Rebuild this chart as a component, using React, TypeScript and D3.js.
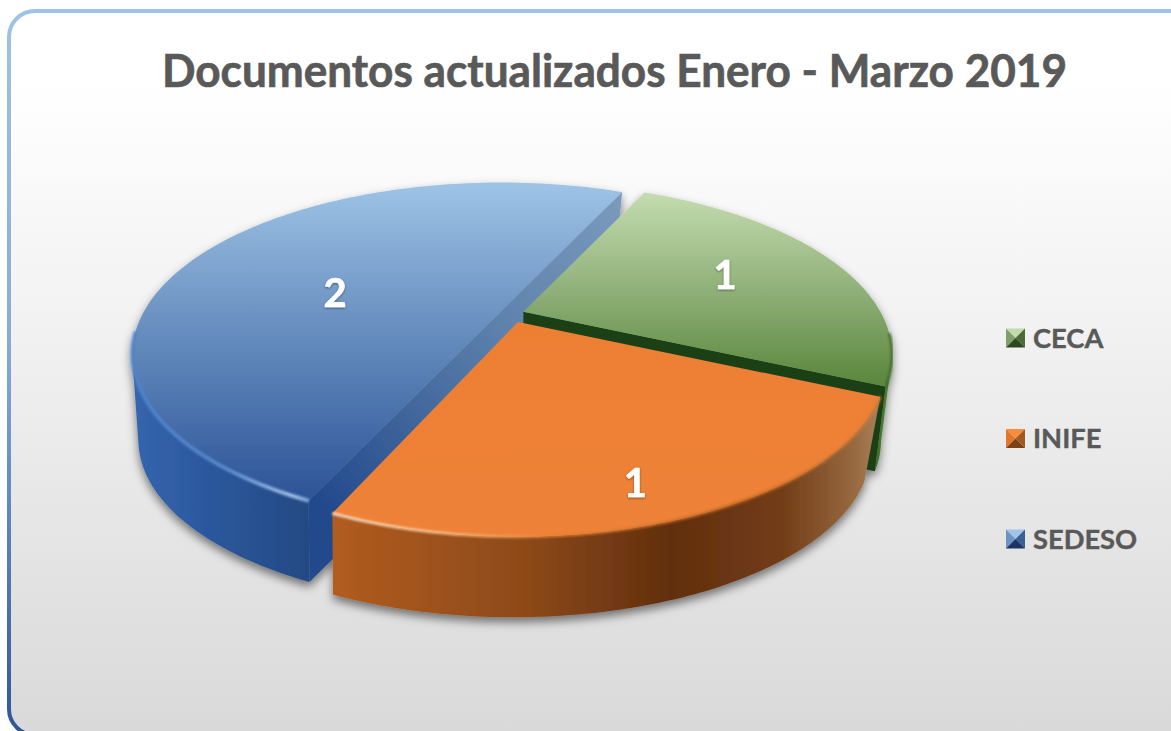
import * as d3 from 'd3'

// chart data
const categories = ['CECA', 'INIFE', 'SEDESO']
const values = [1, 1, 2]
const title = 'Documentos actualizados Enero - Marzo 2019'

const width = 1171
const height = 731

// projection of the tilted pie
const cx = 510
const cy = 316
const rx = 357
const ry = 161
const tilt = 0.25
const explode = 0.04
const depth = 87
const lowScale = 0.97 // lower face sits further away
const start = (24.6 * Math.PI) / 180

// small per-slice corrections to the explode offset and the slice end
const sliceShift: [number, number][] = [[0, -2], [3, 0], [4, -2]]
const lowShift = [0, -5, -5]
const endTrim = [0, 0.017, 0]

const pieData = d3.pie<number>().sort(null).startAngle(start).endAngle(start + 2 * Math.PI)(values)

const midAngle = (i: number) => (pieData[i].startAngle + pieData[i].endAngle) / 2

const project = (theta: number, r: number, i: number, low = false): [number, number] => {
  let mid = midAngle(i)
  let u = r * Math.sin(theta)
  let v = -r * Math.cos(theta)
  let w = 1 - tilt * v
  let ox = explode * rx * Math.sin(mid) + sliceShift[i][0]
  let oy = -explode * ry * Math.cos(mid) + sliceShift[i][1]
  let s = low ? lowScale : 1
  return [cx + ox + (s * rx * u) / w + (low ? lowShift[i] : 0), cy + oy + (s * ry * v) / w + (low ? depth : 0)]
}

const line = d3.line()

const angleSteps = (a0: number, a1: number) => d3.range(0, 121).map(k => a0 + ((a1 - a0) * k) / 120)

// label placement: radius and angle nudge per slice
const labelPlace = [
  { r: 0.647, nudge: -0.03 },
  { r: 0.839, nudge: 0.037 },
  { r: 0.494, nudge: -0.18 },
]

const topFill = d3.scaleOrdinal<string, string>().domain(categories).range(['url(#topGreen)', 'url(#topOrange)', 'url(#topBlue)'])
const sideFill = d3.scaleOrdinal<string, string>().domain(categories).range(['url(#sideGreen)', 'url(#sideOrange)', 'url(#sideBlue)'])
const rimStroke = d3.scaleOrdinal<string, string>().domain(categories).range(['#3c6524', 'url(#rimOrange)', 'url(#rimBlue)'])

const swatchColors = d3.scaleOrdinal<string, string[]>().domain(categories).range([
  ['#c0dcaa', '#7f9f6b', '#4b6b39', '#2c4821'],
  ['#f78c3c', '#e2762a', '#a2591f', '#7a4216'],
  ['#9fc6ea', '#6c93c2', '#3a5f94', '#1d3563'],
])

const legendY = d3.scalePoint<string>().domain(categories).range([338, 539])
const swatch = 19

const App = () => {
  // draw order: blue, green, orange
  const order = [2, 0, 1]

  return (
    <svg width={width} height={height} style={{ position: 'absolute', left: 0, top: 0, display: 'block', background: '#fff' }}>
      <defs>
        <linearGradient id="bg" x1="0" y1="0" x2="0" y2="1">
          <stop offset="0.1" stopColor="#ffffff" />
          <stop offset="0.45" stopColor="#f1f1f1" />
          <stop offset="1" stopColor="#d9d9d9" />
        </linearGradient>
        <linearGradient id="frame" x1="0" y1="0" x2="0" y2="1">
          <stop offset="0" stopColor="#9dc3e6" />
          <stop offset="0.45" stopColor="#86add9" />
          <stop offset="1" stopColor="#2f5597" />
        </linearGradient>
        <linearGradient id="topBlue" gradientUnits="userSpaceOnUse" x1="0" y1="185" x2="0" y2="495">
          <stop offset="0" stopColor="#9dc3e6" />
          <stop offset="0.4" stopColor="#6f95c4" />
          <stop offset="1" stopColor="#2d5598" />
        </linearGradient>
        <linearGradient id="topGreen" gradientUnits="userSpaceOnUse" x1="0" y1="195" x2="0" y2="395">
          <stop offset="0" stopColor="#c3dbae" />
          <stop offset="0.5" stopColor="#8dae76" />
          <stop offset="1" stopColor="#548235" />
        </linearGradient>
        <linearGradient id="topOrange" gradientUnits="userSpaceOnUse" x1="0" y1="320" x2="0" y2="540">
          <stop offset="0" stopColor="#ed7f33" />
          <stop offset="1" stopColor="#ee8238" />
        </linearGradient>
        <linearGradient id="sideBlue" gradientUnits="userSpaceOnUse" x1="130" y1="0" x2="320" y2="0">
          <stop offset="0" stopColor="#3566ae" />
          <stop offset="0.35" stopColor="#2d59a0" />
          <stop offset="1" stopColor="#234880" />
        </linearGradient>
        <linearGradient id="sideOrange" gradientUnits="userSpaceOnUse" x1="330" y1="0" x2="880" y2="0">
          <stop offset="0" stopColor="#b25c20" />
          <stop offset="0.35" stopColor="#8d4a19" />
          <stop offset="0.62" stopColor="#612f0e" />
          <stop offset="0.82" stopColor="#713c16" />
          <stop offset="0.95" stopColor="#96683f" />
          <stop offset="1" stopColor="#aa8059" />
        </linearGradient>
        <linearGradient id="sideGreen" gradientUnits="userSpaceOnUse" x1="860" y1="0" x2="885" y2="0">
          <stop offset="0" stopColor="#2c5319" />
          <stop offset="1" stopColor="#4b7c2e" />
        </linearGradient>
        <linearGradient id="wallBlue" gradientUnits="userSpaceOnUse" x1="620" y1="192" x2="313" y2="495">
          <stop offset="0" stopColor="#7b9abd" />
          <stop offset="0.4" stopColor="#5f83ad" />
          <stop offset="1" stopColor="#234a8c" />
        </linearGradient>
        <linearGradient id="rimBlue" gradientUnits="userSpaceOnUse" x1="130" y1="0" x2="320" y2="0">
          <stop offset="0" stopColor="#4f82c8" />
          <stop offset="0.5" stopColor="#5b8fd6" />
          <stop offset="0.85" stopColor="#b7d2f2" />
          <stop offset="1" stopColor="#6d9ad8" />
        </linearGradient>
        <linearGradient id="rimOrange" gradientUnits="userSpaceOnUse" x1="330" y1="0" x2="880" y2="0">
          <stop offset="0" stopColor="#fff0dc" />
          <stop offset="0.2" stopColor="#fbc592" />
          <stop offset="0.4" stopColor="#e97f35" />
          <stop offset="0.75" stopColor="#b8621f" />
          <stop offset="1" stopColor="#d08040" />
        </linearGradient>
        <filter id="pieShadow" x="-10%" y="-10%" width="120%" height="125%">
          <feDropShadow dx="0" dy="5" stdDeviation="5" floodColor="#000" floodOpacity="0.5" />
        </filter>
        <filter id="rimBlur" x="-5%" y="-5%" width="110%" height="110%">
          <feGaussianBlur stdDeviation="1.2" />
        </filter>
        <filter id="textShadow" x="-30%" y="-30%" width="160%" height="160%">
          <feDropShadow dx="0" dy="1" stdDeviation="1.2" floodColor="#000" floodOpacity="0.45" />
        </filter>
      </defs>

      <rect x={9} y={11} width={1200} height={724} rx={26} ry={26} fill="url(#bg)" stroke="url(#frame)" strokeWidth={4} />

      <text x={162} y={87} fontFamily="Lato" fontWeight={700} fontSize={46} fill="#595959" stroke="#595959" strokeWidth={0.7} textLength={905} lengthAdjust="spacingAndGlyphs">
        {title}
      </text>

      <g filter="url(#pieShadow)">
        {order.map(i => {
          const s = pieData[i]
          const a0 = s.startAngle
          const a1 = s.endAngle - endTrim[i]
          const cat = categories[i]
          const angles = angleSteps(a0, a1)
          const topArc = angles.map(a => project(a, 1, i))
          // the outer wall only shows below the widest line of the projected circle
          const front = angles.filter(a => -Math.cos(a) >= tilt)
          const sideTop = front.map(a => project(a, 1, i))
          const sideBot = front.map(a => project(a, 1, i, true)).reverse()
          // rim highlight only on the part of the arc that faces the viewer
          const rim = angles.filter(a => Math.cos(a) < -0.12).map(a => project(a, 1, i))
          const wallAt = (a: number): [number, number][] => [project(a, 1, i), project(a, 1, i, true)]
          // flat cut faces that can be seen from the front
          const blueWall = [...wallAt(a0), ...wallAt(a1).reverse()]
          const greenWall = [project(0, 0, i), project(0, 0, i, true), ...wallAt(a1).reverse()]
          return (
            <g key={cat}>
              <path d={line([...sideTop, ...sideBot]) + 'Z'} fill={sideFill(cat)} />
              {cat === 'SEDESO' && <path d={line(blueWall) + 'Z'} fill="url(#wallBlue)" />}
              {cat === 'CECA' && <path d={line(greenWall) + 'Z'} fill="#1f3f17" />}
              <path d={line([project(0, 0, i), ...topArc]) + 'Z'} fill={topFill(cat)} />
              <path d={line(rim) || ''} fill="none" stroke={rimStroke(cat)} strokeWidth={cat === 'SEDESO' ? 4 : 3} strokeOpacity={0.8} filter="url(#rimBlur)" />
            </g>
          )
        })}
      </g>

      <g filter="url(#textShadow)">
        {pieData.map((s, i) => {
          const [x, y] = project(midAngle(i) + labelPlace[i].nudge, labelPlace[i].r, i)
          return (
            <text key={categories[i]} x={x} y={y} dy=".36em" textAnchor="middle" fontFamily="Lato" fontWeight={700} fontSize={40} fill="#fff" stroke="#fff" strokeWidth={0.6}>
              {values[i]}
            </text>
          )
        })}
      </g>

      {categories.map(cat => {
        const y = legendY(cat) as number
        const x0 = 1006
        const [x1, x2] = [x0, x0 + swatch]
        const [y1, y2] = [y - swatch / 2, y + swatch / 2]
        const mx = (x1 + x2) / 2
        const my = (y1 + y2) / 2
        const c = swatchColors(cat)
        const tris: [number, number][][] = [
          [[x1, y1], [x2, y1], [mx, my]],
          [[x1, y1], [x1, y2], [mx, my]],
          [[x2, y1], [x2, y2], [mx, my]],
          [[x1, y2], [x2, y2], [mx, my]],
        ]
        return (
          <g key={cat}>
            {tris.map((t, j) => (
              <path key={j} d={line(t) + 'Z'} fill={c[j]} />
            ))}
            <text x={1033} y={y} dy=".36em" fontFamily="Lato" fontWeight={700} fontSize={27.3} fill="#595959" stroke="#595959" strokeWidth={0.4}>
              {cat}
            </text>
          </g>
        )
      })}
    </svg>
  )
}

export default App
